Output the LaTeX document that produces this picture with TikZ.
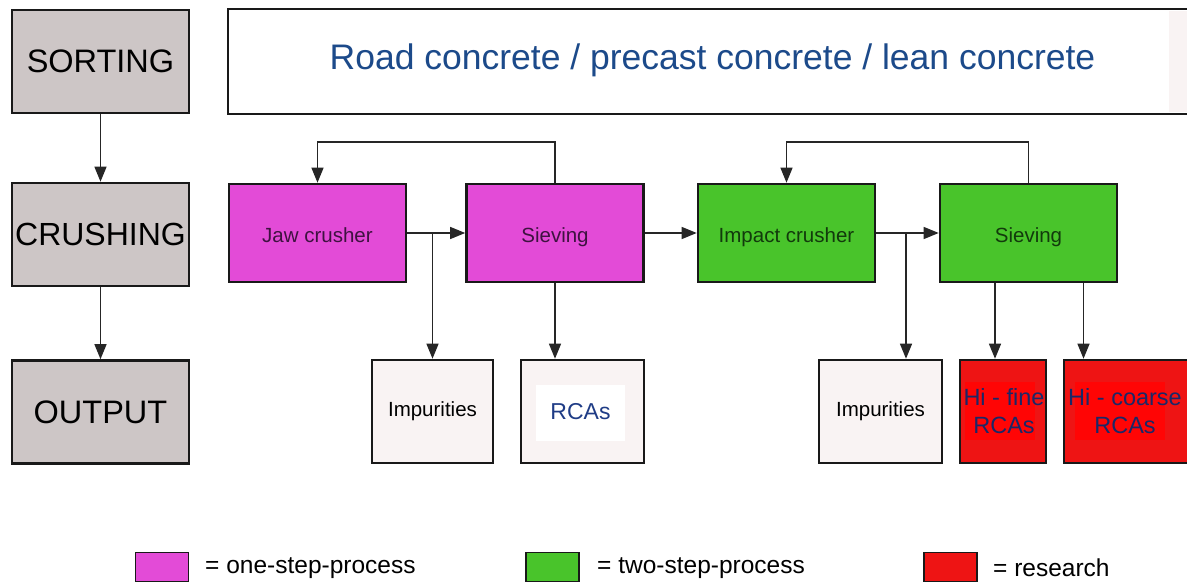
\documentclass[tikz,border=0pt]{standalone}
\usepackage{fontspec}
\setmainfont{Liberation Sans}
\usetikzlibrary{arrows.meta}
\definecolor{stagegray}{HTML}{CDC6C6}
\definecolor{onestep}{HTML}{E34BD7}
\definecolor{twostep}{HTML}{49C42B}
\definecolor{research}{HTML}{EE1414}
\definecolor{researchin}{HTML}{FF0505}
\definecolor{outfill}{HTML}{F9F3F3}
\definecolor{titleblue}{HTML}{1C4A8A}
\definecolor{rcablue}{HTML}{1F3C86}
\definecolor{navy}{HTML}{1A2868}
\definecolor{magtext}{HTML}{3E1240}
\definecolor{greentext}{HTML}{123A0C}
\tikzset{
  stagebox/.style={draw=black!90, line width=2.6pt, fill=stagegray, inner sep=0pt,
    minimum width=177pt, minimum height=103pt, font=\fontsize{32.5}{38}\selectfont},
  procbox/.style={draw=black!90, line width=2.6pt, inner sep=0pt,
    text height=18.5pt, text depth=0pt,
    minimum width=177pt, minimum height=98pt, font=\fontsize{20.5}{24}\selectfont},
  outbox/.style={draw=black!90, line width=2.6pt, inner sep=0pt, fill=outfill,
    minimum height=103pt, font=\fontsize{20.5}{24}\selectfont},
  legbox/.style={draw=black!90, line width=1.4pt, inner sep=0pt, minimum width=53pt, minimum height=29pt},
  legtext/.style={anchor=west, inner sep=0pt, font=\fontsize{24.5}{28}\selectfont},
  conn/.style={line width=1.3pt, draw=black!85},
  arr/.style={conn, -{Triangle[length=15pt,width=12pt]}},
}
\begin{document}
\begin{tikzpicture}[x=1pt,y=-1pt]
\useasboundingbox (0,0) rectangle (1187,585);
\fill[white] (0,0) rectangle (1187,585);
% stage column
\node[stagebox] (sort) at (100.5,61.5) {SORTING};
\node[stagebox, font=\fontsize{32}{38}\selectfont] (crush) at (100.5,234.5) {CRUSHING};
\node[stagebox] (out) at (100.5,412) {OUTPUT};
\draw[arr] (sort.south) -- (crush.north);
\draw[arr] (crush.south) -- (out.north);
% title
\begin{scope}
\clip (0,0) rectangle (1187,585);
\draw[black!90, line width=2.6pt, fill=white] (228,9) rectangle (1200,114);
\fill[outfill] (1169,11) rectangle (1190,112);
\end{scope}
\node[text=titleblue, font=\fontsize{35.5}{42}\selectfont, inner sep=0pt] (title) at (712.5,60) {Road concrete / precast concrete / lean concrete};
% process boxes
\node[procbox, fill=onestep, text=magtext] (jaw) at (317.5,233) {Jaw crusher};
\node[procbox, fill=onestep, text=magtext] (siev1) at (555,233) {Sieving};
\node[procbox, fill=twostep, text=greentext] (impact) at (786.5,233) {Impact crusher};
\node[procbox, fill=twostep, text=greentext] (siev2) at (1028.5,233) {Sieving};
% output boxes
\node[outbox, minimum width=121pt] (imp1) at (432.5,411.5) {Impurities};
\node[outbox, minimum width=123pt] (rcas) at (582.5,411.5) {};
\node[fill=white, inner sep=0pt, minimum width=89pt, minimum height=56pt, text=rcablue,
  font=\fontsize{23}{27}\selectfont] (rcatext) at (580.5,413) {\raisebox{3pt}{RCAs}};
\node[outbox, minimum width=123pt] (imp2) at (880.5,411.5) {Impurities};
\node[outbox, fill=research, minimum width=86pt] (hifine) at (1003,411.5) {};
\node[fill=researchin, inner sep=0pt, minimum width=70pt, minimum height=58pt] (hifinein) at (1000,411) {};
\node[text=navy, align=center, inner sep=0pt, font=\fontsize{23.5}{27.5}\selectfont] (hifinetext) at (1004,411) {Hi - fine\\RCAs};
\begin{scope}
\clip (0,0) rectangle (1187,585);
\node[outbox, fill=research, minimum width=130pt] (hicoarse) at (1129,411.5) {};
\end{scope}
\node[fill=researchin, inner sep=0pt, minimum width=90pt, minimum height=58pt] (hicoarsein) at (1120,411) {};
\node[text=navy, align=center, inner sep=0pt, font=\fontsize{23.5}{27.5}\selectfont] (hicoarsetext) at (1125,411) {Hi - coarse\\RCAs};
% connectors
\coordinate (loop1) at (317.5,142);
\coordinate (loop2) at (786.5,142);
\coordinate (br1) at (432.5,233);
\coordinate (br2) at (906,233);
\coordinate (fineout) at (995,283);
\coordinate (coarseout) at (1083.5,283);
\draw[arr] (siev1.north) |- (loop1) -- (jaw.north);
\draw[arr] (siev2.north) |- (loop2) -- (impact.north);
\draw[arr] (jaw.east) -- (siev1.west);
\draw[arr] (siev1.east) -- (impact.west);
\draw[arr] (impact.east) -- (siev2.west);
\draw[arr] (br1) -- (imp1.north);
\draw[arr] (siev1.south) -- (siev1.south |- rcas.north);
\draw[arr] (br2) -- (br2 |- imp2.north);
\draw[arr] (fineout) -- (fineout |- hifine.north);
\draw[arr] (coarseout) -- (coarseout |- hifine.north);
% legend
\node[legbox, fill=onestep] (leg1) at (162,567) {};
\node[legtext] (leg1t) at (205,568) {= one-step-process};
\node[legbox, fill=twostep] (leg2) at (552.5,567) {};
\node[legtext] (leg2t) at (597,568) {= two-step-process};
\node[legbox, fill=research] (leg3) at (950.5,567) {};
\node[legtext] (leg3t) at (993,568) {= research};
\end{tikzpicture}
\end{document}
